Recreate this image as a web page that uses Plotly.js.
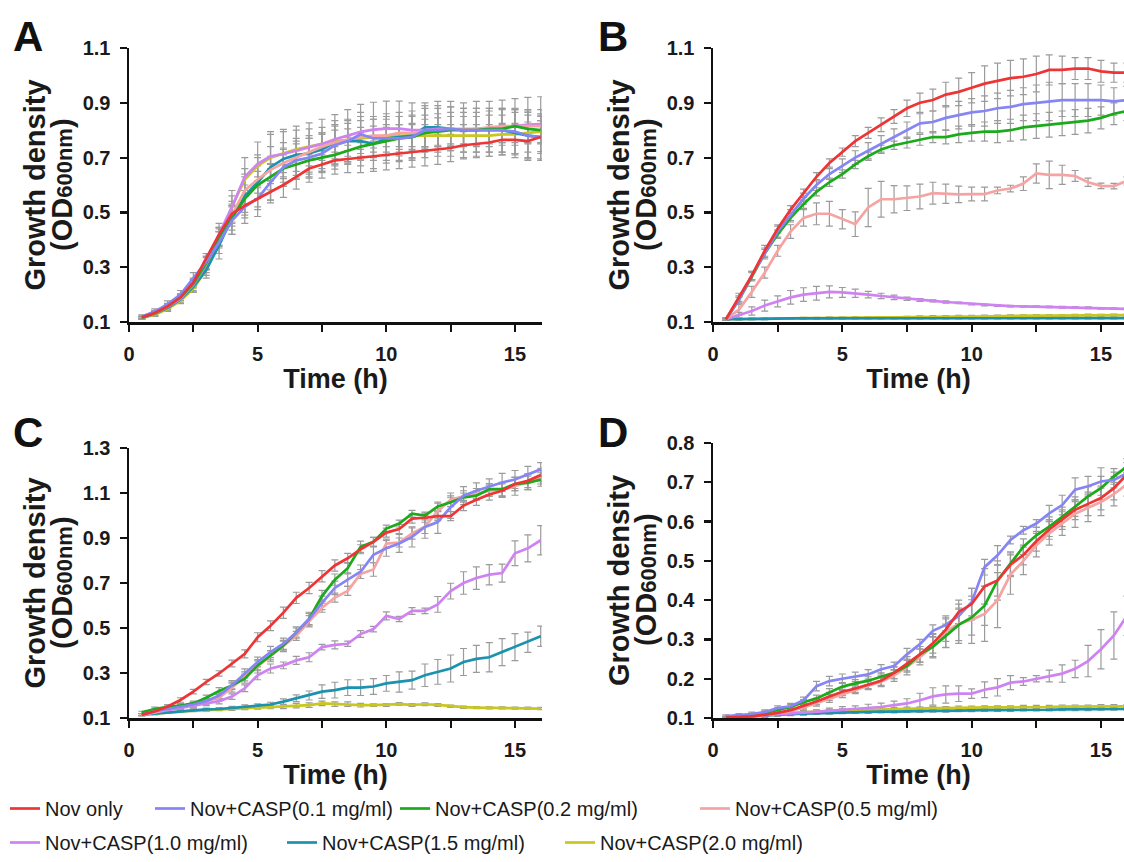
<!DOCTYPE html>
<html><head><meta charset="utf-8">
<script src="https://cdn.plot.ly/plotly-3.0.1.min.js"></script>
<style>html,body{margin:0;padding:0;background:#fff}#chart{width:1124px;height:862px}</style>
</head><body><div id="chart"></div>
<script>
const time = [0.5,1,1.5,2,2.5,3,3.5,4,4.5,5,5.5,6,6.5,7,7.5,8,8.5,9,9.5,10,10.5,11,11.5,12,12.5,13,13.5,14,14.5,15,15.5,16];
const seriesNames = ["Nov only","Nov+CASP(0.1 mg/ml)","Nov+CASP(0.2 mg/ml)","Nov+CASP(0.5 mg/ml)","Nov+CASP(1.0 mg/ml)","Nov+CASP(1.5 mg/ml)","Nov+CASP(2.0 mg/ml)"];
const seriesColors = ["#ee3434","#8585f5","#1aaa1a","#f5a3a3","#cf82f2","#1b92ae","#c9c61e"];
const panelLetters = ["A","B","C","D"];
const xTickVals = [0,2.5,5,7.5,10,12.5,15];
const xTickText = ["0","","5","","10","","15"];
const yTicksAB = [0.1,0.3,0.5,0.7,0.9,1.1];
const yTicksC = [0.1,0.3,0.5,0.7,0.9,1.1,1.3];
const yTicksD = [0.1,0.2,0.3,0.4,0.5,0.6,0.7,0.8];

// ---------- Panel A ----------
const A_nov = [0.117,0.133,0.157,0.19,0.245,0.33,0.42,0.495,0.525,0.55,0.575,0.6,0.63,0.66,0.675,0.69,0.695,0.7,0.705,0.71,0.715,0.72,0.725,0.73,0.735,0.745,0.75,0.755,0.765,0.765,0.76,0.775];
const A_c01 = [0.12,0.138,0.165,0.2,0.26,0.32,0.39,0.47,0.52,0.55,0.61,0.665,0.69,0.7,0.715,0.745,0.76,0.785,0.77,0.77,0.77,0.775,0.8,0.8,0.805,0.8,0.8,0.8,0.8,0.795,0.78,0.775];
const A_c02 = [0.116,0.132,0.158,0.19,0.24,0.315,0.41,0.48,0.55,0.6,0.63,0.66,0.675,0.69,0.7,0.71,0.725,0.74,0.75,0.76,0.77,0.775,0.79,0.795,0.8,0.8,0.8,0.805,0.805,0.815,0.805,0.8];
const A_c05 = [0.116,0.132,0.157,0.19,0.24,0.315,0.41,0.49,0.58,0.62,0.655,0.68,0.7,0.72,0.74,0.755,0.765,0.775,0.78,0.78,0.79,0.79,0.795,0.8,0.805,0.805,0.805,0.81,0.815,0.815,0.815,0.815];
const A_c10 = [0.116,0.131,0.155,0.185,0.235,0.31,0.42,0.52,0.63,0.677,0.705,0.713,0.725,0.737,0.75,0.767,0.78,0.794,0.802,0.806,0.806,0.8,0.8,0.805,0.805,0.8,0.805,0.805,0.81,0.815,0.82,0.822];
const A_c15 = [0.115,0.13,0.152,0.182,0.228,0.29,0.38,0.48,0.56,0.61,0.665,0.695,0.71,0.715,0.73,0.755,0.76,0.76,0.75,0.77,0.775,0.78,0.81,0.81,0.805,0.8,0.8,0.8,0.8,0.79,0.78,0.775];
const A_c20 = [0.115,0.127,0.147,0.178,0.222,0.29,0.4,0.52,0.62,0.67,0.7,0.715,0.73,0.74,0.75,0.76,0.765,0.77,0.775,0.78,0.78,0.78,0.78,0.78,0.78,0.78,0.78,0.78,0.785,0.785,0.79,0.795];
const A_err_nov = [0.004,0.008,0.01,0.012,0.015,0.02,0.025,0.03,0.035,0.04,0.04,0.045,0.045,0.05,0.05,0.05,0.05,0.055,0.055,0.055,0.055,0.055,0.055,0.055,0.05,0.05,0.05,0.05,0.055,0.055,0.06,0.06];
const A_err_c01 = [0.006,0.01,0.012,0.015,0.02,0.03,0.04,0.05,0.06,0.065,0.065,0.07,0.07,0.07,0.07,0.075,0.075,0.08,0.08,0.08,0.08,0.08,0.08,0.08,0.08,0.08,0.08,0.08,0.08,0.08,0.085,0.085];
const A_err_c02 = [0.005,0.008,0.01,0.012,0.016,0.025,0.035,0.045,0.05,0.05,0.048,0.05,0.05,0.05,0.05,0.052,0.05,0.05,0.05,0.05,0.05,0.05,0.05,0.05,0.05,0.05,0.05,0.05,0.05,0.05,0.05,0.05];
const A_err_c05 = [0.005,0.008,0.01,0.012,0.015,0.02,0.03,0.04,0.05,0.05,0.05,0.05,0.05,0.05,0.05,0.06,0.06,0.06,0.06,0.06,0.06,0.06,0.06,0.06,0.06,0.06,0.06,0.06,0.06,0.06,0.06,0.06];
const A_err_c10 = [0.005,0.01,0.012,0.015,0.02,0.03,0.04,0.06,0.07,0.08,0.09,0.09,0.09,0.09,0.09,0.09,0.095,0.1,0.1,0.1,0.1,0.1,0.1,0.1,0.1,0.1,0.1,0.1,0.1,0.1,0.1,0.1];
const A_err_c15 = [0.005,0.01,0.012,0.015,0.02,0.03,0.05,0.06,0.08,0.09,0.12,0.1,0.09,0.09,0.08,0.08,0.08,0.09,0.09,0.09,0.09,0.09,0.08,0.08,0.08,0.08,0.08,0.08,0.08,0.09,0.09,0.08];
const A_err_c20 = [0.004,0.006,0.008,0.01,0.012,0.02,0.03,0.04,0.04,0.04,0.04,0.04,0.04,0.04,0.04,0.04,0.04,0.04,0.04,0.04,0.04,0.04,0.04,0.04,0.04,0.04,0.04,0.04,0.04,0.04,0.04,0.04];

// ---------- Panel B ----------
const B_nov = [0.11,0.19,0.27,0.36,0.44,0.51,0.57,0.63,0.68,0.72,0.76,0.79,0.82,0.85,0.88,0.9,0.91,0.93,0.94,0.955,0.97,0.98,0.99,0.995,1.005,1.02,1.02,1.025,1.025,1.015,1.01,1.01];
const B_c01 = [0.11,0.18,0.27,0.35,0.43,0.49,0.55,0.6,0.64,0.67,0.7,0.725,0.75,0.775,0.8,0.825,0.83,0.845,0.855,0.865,0.87,0.88,0.885,0.895,0.9,0.905,0.91,0.91,0.91,0.91,0.905,0.91];
const B_c02 = [0.11,0.18,0.265,0.35,0.42,0.48,0.53,0.575,0.61,0.64,0.675,0.705,0.73,0.745,0.755,0.765,0.775,0.775,0.785,0.79,0.795,0.795,0.8,0.81,0.815,0.82,0.825,0.83,0.835,0.845,0.86,0.87];
const B_c05 = [0.11,0.145,0.21,0.28,0.36,0.43,0.48,0.495,0.495,0.475,0.457,0.518,0.548,0.548,0.552,0.558,0.57,0.568,0.566,0.567,0.567,0.58,0.587,0.605,0.642,0.637,0.637,0.633,0.61,0.597,0.596,0.615];
const B_c10 = [0.11,0.125,0.14,0.16,0.175,0.19,0.2,0.205,0.21,0.208,0.205,0.2,0.195,0.19,0.185,0.18,0.177,0.173,0.17,0.165,0.162,0.16,0.158,0.157,0.156,0.155,0.154,0.153,0.152,0.15,0.149,0.148];
const B_c15 = [0.11,0.111,0.112,0.112,0.113,0.113,0.113,0.113,0.114,0.114,0.114,0.114,0.114,0.114,0.114,0.114,0.114,0.114,0.114,0.114,0.114,0.114,0.114,0.114,0.114,0.114,0.114,0.114,0.114,0.114,0.114,0.114];
const B_c20 = [0.11,0.111,0.112,0.112,0.113,0.113,0.114,0.114,0.115,0.115,0.116,0.116,0.117,0.117,0.118,0.118,0.119,0.119,0.12,0.12,0.121,0.121,0.122,0.122,0.123,0.123,0.123,0.124,0.124,0.124,0.125,0.125];
const B_err_nov = [0.004,0.015,0.015,0.02,0.015,0.015,0.015,0.015,0.015,0.015,0.02,0.02,0.025,0.025,0.03,0.035,0.04,0.045,0.05,0.055,0.065,0.065,0.065,0.065,0.065,0.055,0.05,0.04,0.04,0.04,0.035,0.035];
const B_err_c01 = [0.004,0.015,0.015,0.02,0.02,0.02,0.02,0.02,0.02,0.025,0.025,0.03,0.03,0.03,0.03,0.035,0.04,0.045,0.05,0.05,0.055,0.055,0.06,0.06,0.065,0.07,0.06,0.06,0.06,0.055,0.05,0.05];
const B_err_c02 = [0.004,0.01,0.015,0.015,0.015,0.015,0.015,0.015,0.015,0.015,0.015,0.015,0.015,0.015,0.02,0.02,0.02,0.025,0.03,0.03,0.035,0.04,0.04,0.045,0.045,0.045,0.045,0.045,0.045,0.04,0.04,0.035];
const B_err_c05 = [0.004,0.02,0.02,0.02,0.02,0.025,0.03,0.04,0.045,0.035,0.045,0.07,0.065,0.05,0.045,0.045,0.04,0.035,0.03,0.025,0.025,0.012,0.012,0.025,0.035,0.05,0.035,0.02,0.015,0.01,0.01,0.015];
const B_err_c10 = [0.004,0.01,0.015,0.02,0.02,0.025,0.025,0.025,0.022,0.018,0.015,0.012,0.01,0.008,0.006,0.005,0.004,0.004,0.003,0.003,0.003,0.003,0.003,0.003,0.003,0.003,0.003,0.003,0.003,0.003,0.003,0.003];
const B_err_c15 = [0.003,0.003,0.003,0.003,0.003,0.003,0.003,0.003,0.003,0.003,0.003,0.003,0.003,0.003,0.003,0.003,0.003,0.003,0.003,0.003,0.003,0.003,0.003,0.003,0.003,0.003,0.003,0.003,0.003,0.003,0.003,0.003];
const B_err_c20 = [0.003,0.003,0.003,0.003,0.003,0.003,0.003,0.003,0.003,0.003,0.003,0.003,0.003,0.003,0.003,0.004,0.004,0.004,0.004,0.004,0.004,0.004,0.004,0.004,0.004,0.004,0.004,0.004,0.005,0.004,0.004,0.004];

// ---------- Panel C ----------
const C_nov = [0.115,0.129,0.151,0.18,0.217,0.26,0.298,0.342,0.385,0.459,0.51,0.568,0.634,0.678,0.73,0.778,0.81,0.85,0.883,0.924,0.94,0.986,0.99,0.997,0.997,1.044,1.07,1.093,1.11,1.14,1.154,1.18];
const C_c01 = [0.115,0.13,0.14,0.15,0.16,0.175,0.2,0.246,0.298,0.349,0.393,0.43,0.48,0.54,0.612,0.678,0.715,0.75,0.825,0.854,0.876,0.905,0.949,0.971,1.037,1.088,1.11,1.128,1.147,1.16,1.183,1.205];
const C_c02 = [0.125,0.14,0.15,0.155,0.165,0.19,0.22,0.245,0.275,0.334,0.378,0.422,0.48,0.54,0.642,0.715,0.766,0.861,0.883,0.942,0.964,1.008,1.0,1.04,1.059,1.08,1.088,1.117,1.117,1.14,1.145,1.16];
const C_c05 = [0.115,0.125,0.14,0.15,0.16,0.175,0.19,0.235,0.285,0.33,0.375,0.42,0.465,0.53,0.59,0.635,0.665,0.74,0.76,0.875,0.88,0.92,0.95,1.02,1.07,1.085,1.095,1.11,1.115,1.13,1.15,1.17];
const C_c10 = [0.115,0.125,0.135,0.145,0.155,0.165,0.175,0.195,0.232,0.29,0.32,0.334,0.356,0.37,0.415,0.425,0.43,0.473,0.495,0.554,0.54,0.576,0.576,0.605,0.664,0.7,0.722,0.737,0.744,0.832,0.854,0.89];
const C_c15 = [0.115,0.12,0.125,0.13,0.135,0.138,0.14,0.145,0.15,0.155,0.16,0.173,0.188,0.2,0.217,0.224,0.235,0.235,0.24,0.254,0.26,0.268,0.29,0.305,0.32,0.349,0.363,0.37,0.393,0.415,0.437,0.463];
const C_c20 = [0.115,0.12,0.125,0.13,0.133,0.135,0.138,0.14,0.143,0.145,0.148,0.15,0.155,0.157,0.165,0.162,0.162,0.157,0.157,0.158,0.162,0.158,0.161,0.158,0.152,0.148,0.146,0.145,0.145,0.144,0.143,0.142];
const C_err_nov = [0.005,0.008,0.008,0.01,0.01,0.012,0.012,0.015,0.018,0.02,0.022,0.025,0.025,0.025,0.025,0.025,0.022,0.02,0.02,0.02,0.02,0.02,0.02,0.02,0.02,0.022,0.025,0.025,0.03,0.03,0.03,0.03];
const C_err_c01 = [0.005,0.008,0.008,0.01,0.01,0.012,0.015,0.02,0.02,0.022,0.025,0.025,0.025,0.03,0.03,0.03,0.03,0.03,0.035,0.035,0.04,0.045,0.05,0.05,0.05,0.04,0.035,0.035,0.04,0.04,0.035,0.03];
const C_err_c02 = [0.005,0.008,0.008,0.01,0.01,0.012,0.015,0.015,0.02,0.02,0.02,0.02,0.02,0.025,0.025,0.025,0.025,0.025,0.02,0.015,0.015,0.015,0.015,0.02,0.02,0.02,0.02,0.025,0.03,0.03,0.03,0.03];
const C_err_c05 = [0.005,0.008,0.008,0.01,0.01,0.012,0.015,0.02,0.02,0.03,0.025,0.025,0.02,0.025,0.02,0.02,0.02,0.02,0.03,0.02,0.02,0.025,0.03,0.035,0.03,0.025,0.025,0.025,0.03,0.04,0.035,0.03];
const C_err_c10 = [0.005,0.006,0.008,0.01,0.01,0.01,0.012,0.012,0.015,0.02,0.02,0.015,0.018,0.02,0.012,0.018,0.012,0.015,0.012,0.018,0.012,0.015,0.012,0.035,0.035,0.05,0.05,0.045,0.04,0.055,0.06,0.065];
const C_err_c15 = [0.004,0.005,0.005,0.005,0.006,0.006,0.006,0.007,0.008,0.008,0.01,0.012,0.015,0.02,0.03,0.035,0.035,0.035,0.035,0.035,0.045,0.04,0.05,0.055,0.06,0.06,0.06,0.065,0.06,0.06,0.045,0.045];
const C_err_c20 = [0.004,0.005,0.005,0.005,0.005,0.005,0.005,0.006,0.006,0.006,0.007,0.008,0.01,0.01,0.01,0.01,0.01,0.008,0.006,0.006,0.006,0.006,0.006,0.006,0.005,0.005,0.005,0.005,0.005,0.005,0.005,0.005];

// ---------- Panel D ----------
const D_nov = [0.101,0.102,0.104,0.108,0.113,0.12,0.13,0.142,0.155,0.167,0.175,0.185,0.195,0.215,0.238,0.262,0.29,0.325,0.37,0.39,0.435,0.45,0.49,0.515,0.55,0.58,0.605,0.63,0.645,0.66,0.685,0.72];
const D_c01 = [0.105,0.107,0.11,0.115,0.125,0.13,0.145,0.181,0.194,0.2,0.205,0.211,0.224,0.232,0.262,0.288,0.322,0.337,0.36,0.395,0.484,0.514,0.553,0.578,0.595,0.621,0.642,0.681,0.69,0.702,0.706,0.723];
const D_c02 = [0.103,0.105,0.108,0.113,0.12,0.128,0.14,0.15,0.165,0.18,0.188,0.195,0.205,0.215,0.232,0.262,0.281,0.309,0.337,0.356,0.386,0.45,0.493,0.536,0.565,0.587,0.612,0.638,0.664,0.685,0.715,0.74];
const D_c05 = [0.101,0.102,0.104,0.107,0.112,0.118,0.127,0.138,0.15,0.162,0.172,0.182,0.192,0.208,0.23,0.255,0.283,0.32,0.34,0.35,0.365,0.4,0.465,0.5,0.54,0.57,0.595,0.62,0.635,0.65,0.67,0.695];
const D_c10 = [0.101,0.103,0.105,0.107,0.109,0.111,0.113,0.115,0.118,0.121,0.123,0.125,0.128,0.133,0.137,0.145,0.155,0.16,0.162,0.162,0.172,0.178,0.19,0.193,0.2,0.207,0.213,0.225,0.245,0.275,0.31,0.36];
const D_c15 = [0.101,0.103,0.105,0.107,0.109,0.11,0.111,0.112,0.113,0.114,0.115,0.115,0.116,0.116,0.117,0.117,0.118,0.118,0.119,0.119,0.12,0.12,0.12,0.121,0.121,0.121,0.122,0.122,0.122,0.123,0.123,0.123];
const D_c20 = [0.101,0.104,0.107,0.109,0.111,0.113,0.115,0.116,0.118,0.119,0.12,0.121,0.122,0.123,0.124,0.124,0.125,0.125,0.126,0.126,0.127,0.127,0.127,0.128,0.128,0.128,0.129,0.129,0.129,0.13,0.13,0.13];
const D_err_nov = [0.002,0.003,0.004,0.005,0.005,0.006,0.007,0.008,0.01,0.01,0.01,0.01,0.012,0.015,0.018,0.02,0.025,0.03,0.03,0.04,0.045,0.04,0.03,0.025,0.025,0.025,0.025,0.025,0.03,0.03,0.03,0.03];
const D_err_c01 = [0.003,0.004,0.005,0.006,0.006,0.007,0.008,0.012,0.012,0.012,0.012,0.012,0.012,0.01,0.015,0.012,0.015,0.015,0.02,0.035,0.02,0.025,0.01,0.01,0.01,0.02,0.025,0.03,0.025,0.035,0.02,0.015];
const D_err_c02 = [0.002,0.003,0.004,0.005,0.006,0.006,0.007,0.008,0.01,0.01,0.01,0.01,0.01,0.015,0.015,0.02,0.025,0.03,0.04,0.045,0.05,0.05,0.03,0.02,0.02,0.025,0.025,0.025,0.025,0.03,0.02,0.02];
const D_err_c05 = [0.002,0.003,0.004,0.005,0.006,0.006,0.007,0.008,0.01,0.01,0.01,0.01,0.012,0.015,0.02,0.02,0.03,0.04,0.05,0.06,0.07,0.07,0.05,0.035,0.03,0.03,0.03,0.035,0.035,0.035,0.03,0.03];
const D_err_c10 = [0.002,0.003,0.003,0.004,0.004,0.005,0.006,0.006,0.007,0.008,0.008,0.01,0.01,0.01,0.012,0.018,0.022,0.022,0.02,0.012,0.02,0.022,0.018,0.01,0.008,0.015,0.022,0.022,0.04,0.05,0.06,0.05];
const D_err_c15 = [0.002,0.002,0.003,0.003,0.003,0.003,0.003,0.003,0.003,0.003,0.003,0.003,0.003,0.003,0.003,0.003,0.003,0.003,0.003,0.003,0.003,0.003,0.003,0.003,0.003,0.003,0.003,0.003,0.003,0.003,0.003,0.003];
const D_err_c20 = [0.002,0.002,0.003,0.003,0.003,0.003,0.004,0.004,0.004,0.004,0.004,0.004,0.004,0.004,0.004,0.004,0.004,0.004,0.004,0.004,0.004,0.004,0.004,0.004,0.004,0.004,0.004,0.004,0.004,0.004,0.004,0.004];

const panels = [
  {vals:[A_nov,A_c01,A_c02,A_c05,A_c10,A_c15,A_c20], errs:[A_err_nov,A_err_c01,A_err_c02,A_err_c05,A_err_c10,A_err_c15,A_err_c20], xa:'x', ya:'y'},
  {vals:[B_nov,B_c01,B_c02,B_c05,B_c10,B_c15,B_c20], errs:[B_err_nov,B_err_c01,B_err_c02,B_err_c05,B_err_c10,B_err_c15,B_err_c20], xa:'x2', ya:'y2'},
  {vals:[C_nov,C_c01,C_c02,C_c05,C_c10,C_c15,C_c20], errs:[C_err_nov,C_err_c01,C_err_c02,C_err_c05,C_err_c10,C_err_c15,C_err_c20], xa:'x3', ya:'y3'},
  {vals:[D_nov,D_c01,D_c02,D_c05,D_c10,D_c15,D_c20], errs:[D_err_nov,D_err_c01,D_err_c02,D_err_c05,D_err_c10,D_err_c15,D_err_c20], xa:'x4', ya:'y4'}
];

const legendIds = ['legend','legend2','legend3','legend4','legend5','legend6','legend7'];
const drawOrder = [6,5,4,3,2,1,0];
const traces = [];
panels.forEach(function(p){
  drawOrder.forEach(function(i){
    traces.push({x:time, y:p.vals[i], xaxis:p.xa, yaxis:p.ya, type:'scatter', mode:'markers',
      marker:{size:2, color:'rgba(0,0,0,0)'}, showlegend:false, hoverinfo:'skip',
      error_y:{type:'data', array:p.errs[i], visible:true, color:'#9b9b9b', thickness:1.2, width:3.5}});
  });
});
panels.forEach(function(p, pi){
  drawOrder.forEach(function(i){
    traces.push({x:time, y:p.vals[i], xaxis:p.xa, yaxis:p.ya, type:'scatter', mode:'lines',
      name:seriesNames[i], line:{color:seriesColors[i], width:2.7},
      showlegend: pi===0, legend: legendIds[i]});
  });
});

const FONT = 'Liberation Sans, Arial, Helvetica, sans-serif';
const TXT = '#1a1a1a';
const W = 1124, H = 862;
function xAxis(x0, x1, r){
  return {domain:[x0/W, x1/W], range:r, tickmode:'array', tickvals:xTickVals, ticktext:xTickText,
    showline:true, linecolor:'#111', linewidth:2.5, ticks:'outside', ticklen:7, tickwidth:2.2, tickcolor:'#111',
    showgrid:false, zeroline:false, ticklabelstandoff:5,
    tickfont:{family:FONT, size:20, color:TXT, weight:'bold'},
    title:{text:'Time (h)', standoff:0, font:{family:FONT, size:27, color:TXT, weight:'bold'}}};
}
function yAxis(y0, y1, r, tv, xa){
  return {domain:[1-y1/H, 1-y0/H], range:r, tickmode:'array', tickvals:tv, ticktext:tv.map(function(v){return v.toFixed(1);}),
    showline:true, linecolor:'#111', linewidth:2.5, ticks:'outside', ticklen:7, tickwidth:2.2, tickcolor:'#111',
    showgrid:false, zeroline:false, ticklabelstandoff:5, anchor:xa,
    tickfont:{family:FONT, size:20, color:TXT, weight:'bold'},
    title:{text:'Growth density', standoff:29,
      font:{family:FONT, size:29, color:TXT, weight:'bold'}}};
}

// subtitle lines "(OD600nm)" placed beside each y-axis title
const odAxisX = [129, 713, 129, 713];
const odCenterY = [185, 185, 583, 580];
const annotations = panelLetters.map(function(t, i){
  return {text:t, xref:'paper', yref:'paper', x:[28,613,28,613][i]/W, y:1-[36,36,432,432][i]/H,
    xanchor:'center', yanchor:'middle', showarrow:false,
    font:{family:FONT, size:42, color:'#111', weight:'bold'}};
});
odAxisX.forEach(function(ax, i){
  annotations.push({text:'(OD<span style="font-size:22px">600nm</span>)', xref:'paper', yref:'paper',
    x:(ax-67)/W, y:1-odCenterY[i]/H, xanchor:'center', yanchor:'middle', textangle:-90, showarrow:false,
    font:{family:FONT, size:29, color:TXT, weight:'bold'}});
});

// legend boxes anchored at their bottom edge (pixels from the bottom of the figure)
const legendX = [10, 155, 400, 700, 10, 287, 565];
const legendBottom = [34, 34, 34, 34, 0, 0, 0];
const layout = {
  width:W, height:H, margin:{l:0,r:0,t:0,b:0}, paper_bgcolor:'#fff', plot_bgcolor:'#fff',
  font:{family:FONT},
  xaxis: Object.assign(xAxis(129, 542, [0,16.05]), {anchor:'y'}),
  yaxis: yAxis(48, 322, [0.1,1.1], yTicksAB, 'x'),
  xaxis2: Object.assign(xAxis(713, 1124, [0,15.89]), {anchor:'y2'}),
  yaxis2: yAxis(48, 322, [0.1,1.1], yTicksAB, 'x2'),
  xaxis3: Object.assign(xAxis(129, 542, [0,16.05]), {anchor:'y3'}),
  yaxis3: yAxis(448, 718, [0.1,1.3], yTicksC, 'x3'),
  xaxis4: Object.assign(xAxis(713, 1124, [0,15.89]), {anchor:'y4'}),
  yaxis4: yAxis(443, 718, [0.1,0.8], yTicksD, 'x4'),
  annotations: annotations
};
legendIds.forEach(function(id, i){
  layout[id] = {x:(legendX[i]-5)/W, y:legendBottom[i]/H, xanchor:'left', yanchor:'bottom', orientation:'h',
    bgcolor:'rgba(0,0,0,0)', borderwidth:0, font:{family:FONT, size:20, color:TXT}, itemwidth:30};
});

Plotly.newPlot('chart', traces, layout, {displayModeBar:false, staticPlot:true});
</script></body></html>
